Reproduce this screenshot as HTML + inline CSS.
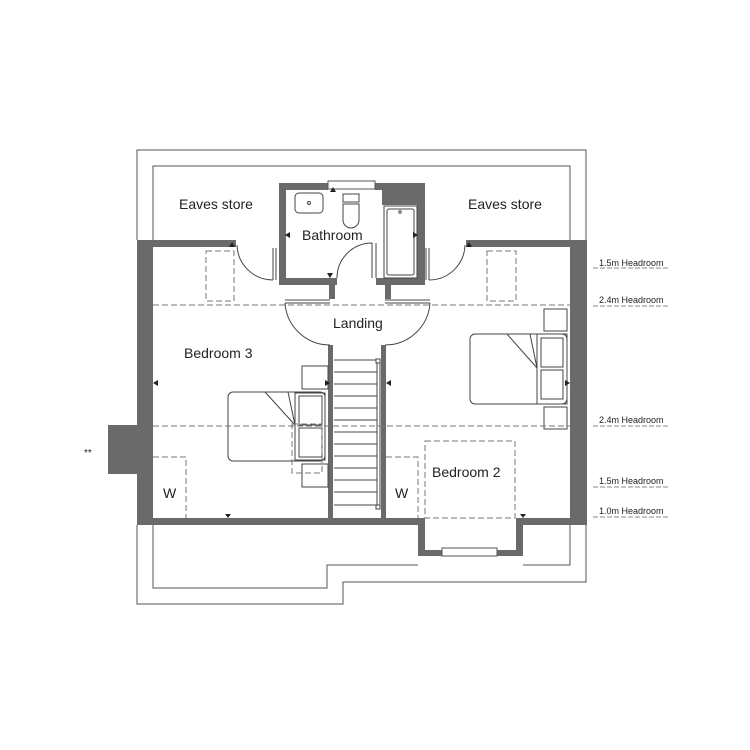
<!DOCTYPE html>
<html><head><style>body{margin:0;background:#fff}svg{display:block}text{font-family:"Liberation Sans",sans-serif;fill:#222}</style></head>
<body>
<svg width="750" height="750" viewBox="0 0 750 750" xmlns="http://www.w3.org/2000/svg">
<g fill="none" stroke="#555" stroke-width="1">
<polyline points="137,240 137,150 586,150 586,582 343,582 343,604 137,604 137,525"/>
<polyline points="153,240 153,166 570,166 570,240"/>
<polyline points="153,525 153,588 327,588 327,565 418,565"/>
<polyline points="523,565 570,565 570,525"/>
</g>
<g fill="#6a6a6a">
<rect x="137" y="240" width="16" height="285"/>
<rect x="570" y="240" width="17" height="285"/>
<rect x="108" y="425" width="30" height="49"/>
<rect x="137" y="240" width="99" height="7"/>
<rect x="466" y="240" width="104" height="7"/>
<rect x="137" y="518" width="288" height="7"/>
<rect x="516" y="518" width="71" height="7"/>
<rect x="418" y="518" width="7" height="38"/>
<rect x="516" y="518" width="7" height="38"/>
<rect x="418" y="550" width="105" height="6"/>
<rect x="279" y="183" width="7" height="102"/>
<rect x="279" y="183" width="49" height="7"/>
<rect x="375" y="183" width="50" height="7"/>
<rect x="382" y="183" width="43" height="22"/>
<rect x="417" y="183" width="8" height="102"/>
<rect x="279" y="278" width="58" height="7"/>
<rect x="376" y="278" width="49" height="7"/>
<rect x="329" y="285" width="6" height="14"/>
<rect x="385" y="285" width="6" height="14"/>
<rect x="328" y="345" width="5" height="173"/>
<rect x="381" y="345" width="5" height="173"/>
</g>
<g fill="#fff" stroke="#555" stroke-width="1">
<rect x="328" y="181" width="47" height="8"/>
<rect x="442" y="548" width="55" height="8"/>
</g>
<g fill="none" stroke="#444" stroke-width="1">
<rect x="295" y="193" width="28" height="20" rx="4"/>
<circle cx="309" cy="203" r="1.5"/>
<rect x="343" y="194" width="16" height="8"/>
<path d="M343,204 h16 v16 a8,8 0 0 1 -16,0 z"/>
<rect x="384" y="206" width="33" height="72"/>
<rect x="387" y="209" width="27" height="66" rx="2"/>
<circle cx="400" cy="212" r="1.2"/>
<path d="M237,245 A36,36 0 0 0 273,280 M273,248 v32 M276,248 v32"/>
<path d="M465,245 A36,36 0 0 1 429,280 M429,248 v32 M426,248 v32"/>
<path d="M372,243 A35,35 0 0 0 337,278 M372,243 v35 M376,243 v35"/>
<path d="M285,300 h45 M285,303 h45 M285,303 A45,45 0 0 0 330,345"/>
<path d="M385,300 h45 M385,303 h45 M430,303 A45,45 0 0 1 385,345"/>
<path d="M334,360 h43 M334,372 h43 M334,384 h43 M334,396 h43 M334,408 h43 M334,420 h43 M334,432 h43 M334,444 h43 M334,456 h43 M334,468 h43 M334,480 h43 M334,492 h43 M334,505 h43"/>
<path d="M377,362 v143 M380,362 v143"/>
<rect x="376" y="359" width="4" height="4" fill="#fff"/>
<rect x="376" y="505" width="4" height="4" fill="#fff"/>
<rect x="228" y="392" width="97" height="69" rx="5"/>
<path d="M265,392 L295,425 M288,392 L295,425"/>
<rect x="295" y="393" width="30" height="67"/>
<rect x="299" y="396" width="23" height="29"/>
<rect x="299" y="428" width="23" height="29"/>
<rect x="302" y="366" width="26" height="23"/>
<rect x="302" y="464" width="26" height="23"/>
<rect x="470" y="334" width="97" height="70" rx="5"/>
<path d="M507,334 L537,368 M530,334 L537,368"/>
<rect x="537" y="334" width="30" height="70"/>
<rect x="541" y="338" width="22" height="29"/>
<rect x="541" y="370" width="22" height="29"/>
<rect x="544" y="309" width="23" height="22"/>
<rect x="544" y="407" width="23" height="22"/>
</g>
<g fill="none" stroke="#777" stroke-width="1" stroke-dasharray="6,3">
<line x1="153" y1="305" x2="570" y2="305"/>
<line x1="153" y1="426" x2="570" y2="426"/>
<rect x="206" y="251" width="28" height="50"/>
<rect x="487" y="251" width="29" height="50"/>
<rect x="292" y="424" width="30" height="49"/>
<polyline points="153,457 186,457 186,518"/>
<polyline points="386,457 418,457 418,518"/>
<rect x="425" y="441" width="90" height="77"/>
<g stroke="#888" stroke-dasharray="5,2">
<line x1="593" y1="268" x2="668" y2="268"/>
<line x1="593" y1="306" x2="668" y2="306"/>
<line x1="593" y1="426" x2="668" y2="426"/>
<line x1="593" y1="487" x2="668" y2="487"/>
<line x1="593" y1="517" x2="668" y2="517"/>
</g>
</g>
<g fill="#222">
<path d="M229,247 l3,-5 l3,5z"/>
<path d="M333,187 l3,5 h-6z M327,273 l3,5 l3,-5z M466,247 l3,-5 l3,5z"/>
<path d="M290,232 l-5,3 l5,3z M413,232 l5,3 l-5,3z"/>
<path d="M158,380 l-5,3 l5,3z M325,380 l5,3 l-5,3z M391,380 l-5,3 l5,3z M565,380 l5,3 l-5,3z"/>
<path d="M225,514 l3,4 l3,-4z M520,514 l3,4 l3,-4z"/>
</g>
<g font-size="14">
<text x="179" y="209">Eaves store</text>
<text x="468" y="209">Eaves store</text>
<text x="302" y="240">Bathroom</text>
<text x="333" y="328">Landing</text>
<text x="184" y="358">Bedroom 3</text>
<text x="432" y="477">Bedroom 2</text>
<text x="163" y="498">W</text>
<text x="395" y="498">W</text>
</g>
<text x="84" y="456" font-size="10">**</text>
<g font-size="9">
<text x="599" y="266">1.5m Headroom</text>
<text x="599" y="303">2.4m Headroom</text>
<text x="599" y="423">2.4m Headroom</text>
<text x="599" y="484">1.5m Headroom</text>
<text x="599" y="514">1.0m Headroom</text>
</g>
</svg>
</body></html>
